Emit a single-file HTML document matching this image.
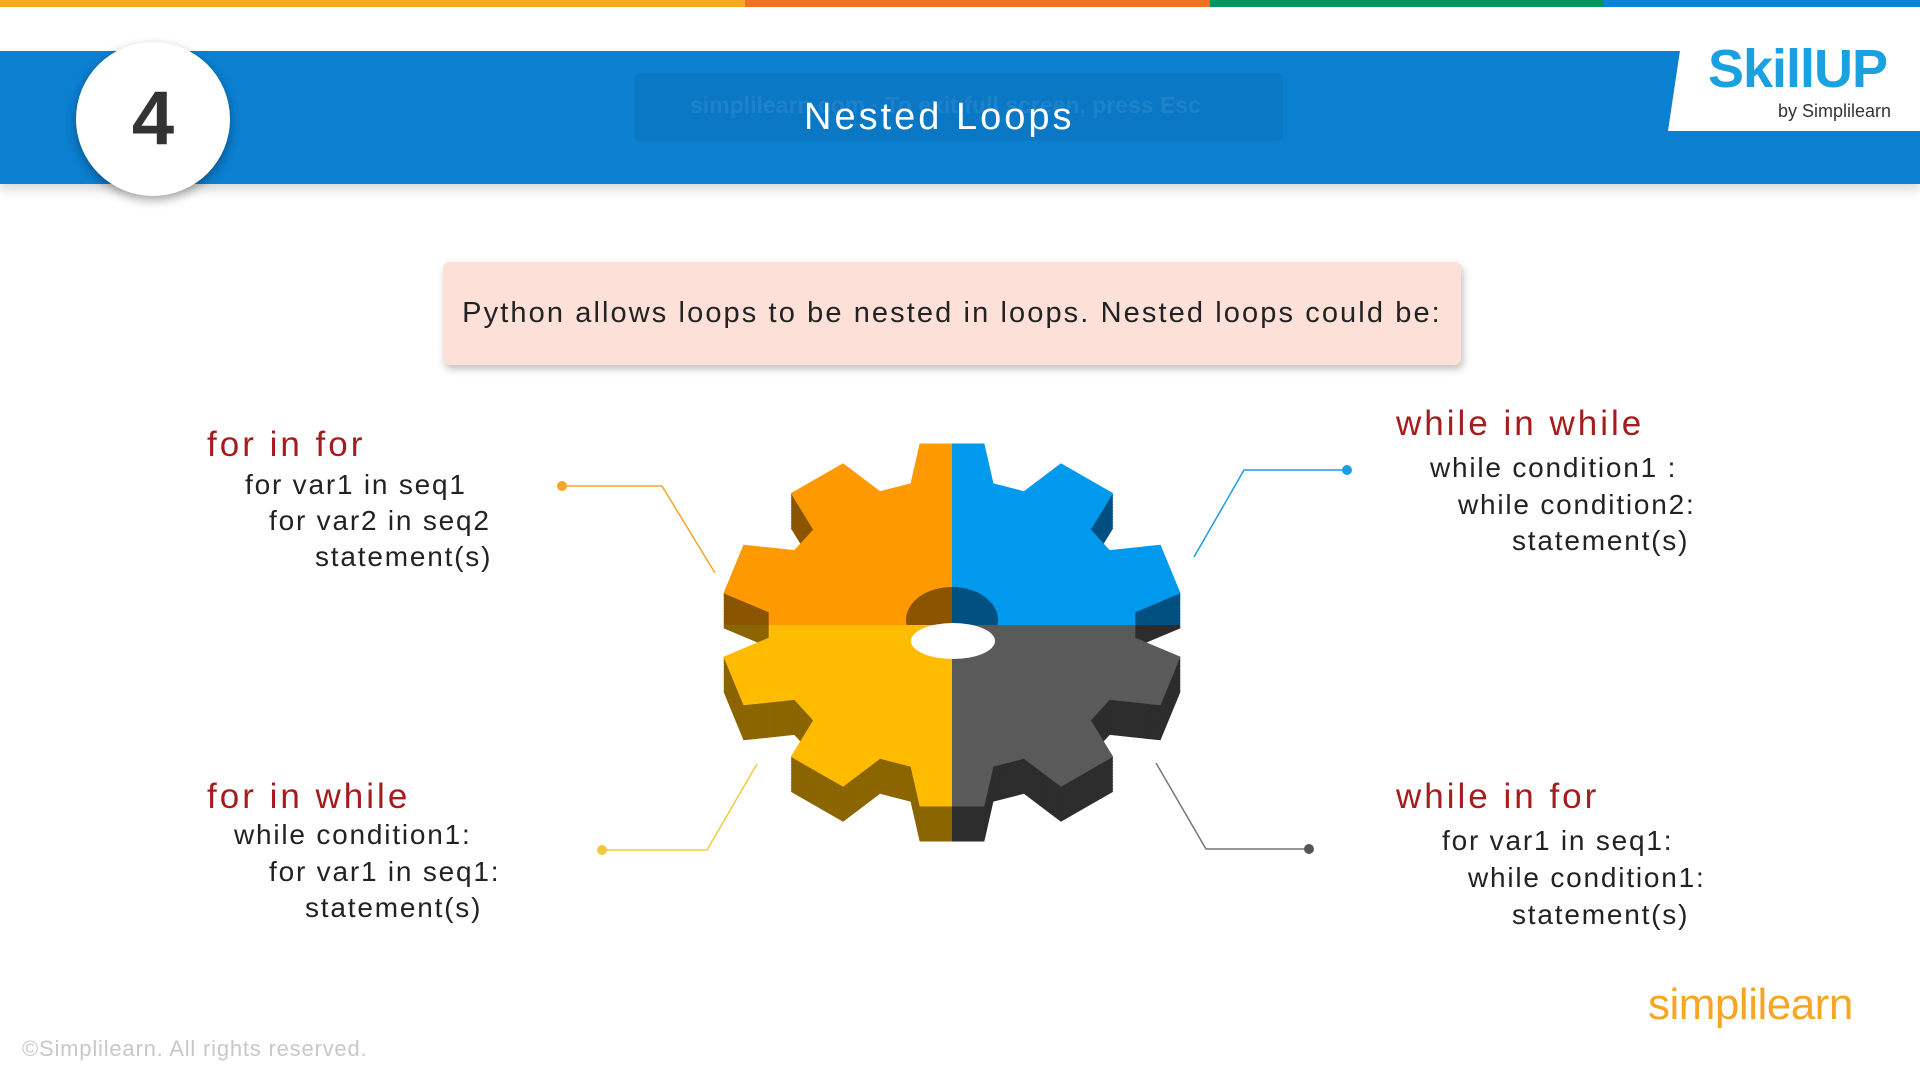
<!DOCTYPE html>
<html><head><meta charset="utf-8"><style>
html,body{margin:0;padding:0;width:1920px;height:1080px;overflow:hidden;background:#fff;font-family:"Liberation Sans",sans-serif}
.a{position:absolute;white-space:nowrap}
.h{color:#a51c1c;font-size:35px;letter-spacing:3px}
.b{color:#222;font-size:28px;letter-spacing:1.8px}
</style></head><body>
<div class="a" style="left:0;top:0;width:745px;height:7px;background:#f9a825"></div>
<div class="a" style="left:745px;top:0;width:465px;height:7px;background:#f37021"></div>
<div class="a" style="left:1210px;top:0;width:394px;height:7px;background:#00965e"></div>
<div class="a" style="left:1604px;top:0;width:316px;height:7px;background:#0a84d6"></div>
<div class="a" style="left:0;top:51px;width:1920px;height:133px;background:#0b7fd0;box-shadow:0 6px 10px rgba(0,0,0,0.15)"></div>
<div class="a" style="left:634px;top:73px;width:649px;height:68px;background:rgba(0,0,0,0.05);border-radius:6px"></div>
<div class="a" style="left:690px;top:92px;font-size:23px;color:rgba(255,255,255,0.08);font-weight:bold">simplilearn.com · To exit full screen, press Esc</div>
<div class="a" style="left:804px;top:96px;font-size:38px;color:#fff;letter-spacing:3px">Nested Loops</div>
<div class="a" style="left:76px;top:42px;width:154px;height:154px;border-radius:50%;background:#fff;box-shadow:0 4px 10px rgba(0,0,0,0.35);text-align:center;line-height:154px;font-size:76px;font-weight:bold;color:#333">4</div>
<svg class="a" style="left:1668px;top:37px" width="252" height="94"><polygon points="14,0 252,0 252,94 0,94" fill="#fff"/></svg>
<div class="a" style="left:1708px;top:38px;font-size:54px;font-weight:bold;color:#1ba0e0;letter-spacing:-1px">SkillUP</div>
<div class="a" style="left:1778px;top:101px;font-size:18px;color:#333">by Simplilearn</div>
<div class="a" style="left:443px;top:262px;width:1018px;height:103px;background:#fde0d8;border-radius:6px;box-shadow:2px 4px 8px rgba(0,0,0,0.25);text-align:center;line-height:103px;font-size:29px;color:#222;letter-spacing:2.1px">Python allows loops to be nested in loops. Nested loops could be:</div>

<div class="a h" style="left:207px;top:425px">for in for</div>
<div class="a b" style="left:245px;top:469px">for var1 in seq1</div>
<div class="a b" style="left:269px;top:505px">for var2 in seq2</div>
<div class="a b" style="left:315px;top:541px">statement(s)</div>

<div class="a h" style="left:1396px;top:404px">while in while</div>
<div class="a b" style="left:1430px;top:452px">while condition1 :</div>
<div class="a b" style="left:1458px;top:489px">while condition2:</div>
<div class="a b" style="left:1512px;top:525px">statement(s)</div>

<div class="a h" style="left:207px;top:777px">for in while</div>
<div class="a b" style="left:234px;top:819px">while condition1:</div>
<div class="a b" style="left:269px;top:856px">for var1 in seq1:</div>
<div class="a b" style="left:305px;top:892px">statement(s)</div>

<div class="a h" style="left:1396px;top:777px">while in for</div>
<div class="a b" style="left:1442px;top:825px">for var1 in seq1:</div>
<div class="a b" style="left:1468px;top:862px">while condition1:</div>
<div class="a b" style="left:1512px;top:899px">statement(s)</div>

<div class="a" style="left:1648px;top:980px;font-size:44px;color:#f6a623;letter-spacing:-0.5px">simpl<span style="color:#f6a623">i</span>learn</div>
<div class="a" style="left:22px;top:1036px;font-size:22px;color:#c8c8c8;letter-spacing:0.8px">©Simplilearn. All rights reserved.</div>

<svg id="g" class="a" style="left:0;top:0" width="1920" height="1080">
<polyline points="562,486 662,486 715,573" fill="none" stroke="#f5a623" stroke-width="1.5"/>
<circle cx="562" cy="486" r="5" fill="#f5a623"/>
<polyline points="1347,470 1244,470 1194,557" fill="none" stroke="#1b9ee0" stroke-width="1.5"/>
<circle cx="1347" cy="470" r="5" fill="#1b9ee0"/>
<polyline points="602,850 707,850 757,764" fill="none" stroke="#f5c842" stroke-width="1.5"/>
<circle cx="602" cy="850" r="5" fill="#f5c842"/>
<polyline points="1309,849 1206,849 1156,763" fill="none" stroke="#777" stroke-width="1.5"/>
<circle cx="1309" cy="849" r="5" fill="#555"/>
<defs>
<clipPath id="q1"><rect x="0" y="0" width="952" height="625"/></clipPath>
<clipPath id="q2"><rect x="952" y="0" width="968" height="625"/></clipPath>
<clipPath id="q3"><rect x="0" y="625" width="952" height="455"/></clipPath>
<clipPath id="q4"><rect x="952" y="625" width="968" height="455"/></clipPath>
</defs>
<g id="gear"></g>
</svg>
<script>
(function(){
var cx=952,cy=625,sy=0.79,Ro=232,Ri=184,n=10,pts=[];
for(var i=0;i<n;i++){
 var a=-90+i*36, d=Math.PI/180;
 var ang=[[a-13,Ri],[a-8,Ro],[a+8,Ro],[a+13,Ri]];
 for(var k=0;k<4;k++){var t=ang[k][0]*d,r=ang[k][1];pts.push([Math.cos(t)*r,Math.sin(t)*r*sy]);}
}
function poly(dy){return pts.map(function(p){return (cx+p[0]).toFixed(1)+","+(cy+p[1]+dy).toFixed(1)}).join(" ");}
var q=[["q1","#ff9900","#8b5500"],["q2","#0099ee","#005080"],["q3","#ffbb00","#8a6500"],["q4","#5a5a5a","#2d2d2d"]];
var s="";
for(var j=0;j<4;j++){
 s+='<g clip-path="url(#'+q[j][0]+')">';
 for(var dy=35;dy>0;dy-=1.5) s+='<polygon points="'+poly(dy)+'" fill="'+q[j][2]+'"/>';
 s+='</g>';
}
for(var j=0;j<4;j++) s+='<polygon clip-path="url(#'+q[j][0]+')" points="'+poly(0)+'" fill="'+q[j][1]+'"/>';
s+='<ellipse cx="952" cy="620" rx="46" ry="33" fill="#8b5500" clip-path="url(#q1)"/>';
s+='<ellipse cx="952" cy="620" rx="46" ry="33" fill="#005080" clip-path="url(#q2)"/>';
s+='<ellipse cx="953" cy="641" rx="42" ry="18" fill="#fff"/>';
document.getElementById("gear").innerHTML=s;
})();
</script>
</body></html>
